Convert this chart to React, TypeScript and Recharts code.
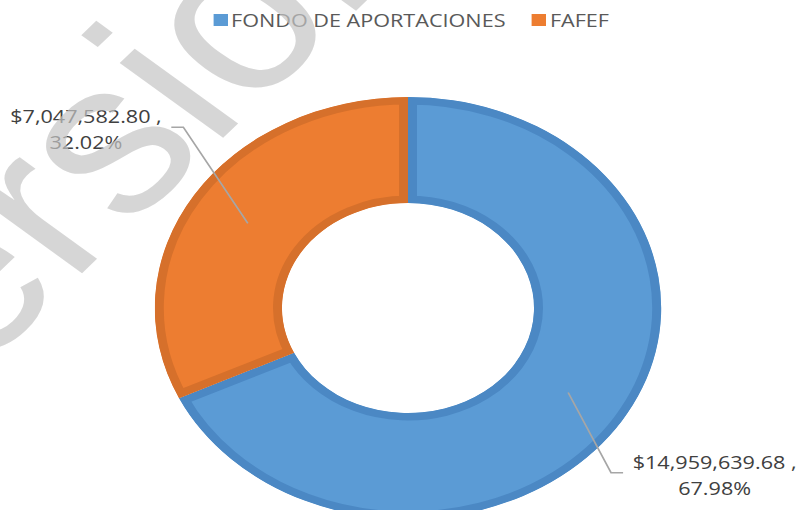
import React from "react";
import { PieChart, Pie, Cell, Legend, Sector } from "recharts";

// fondos federales: importe y participación
const categories = ["FONDO DE APORTACIONES", "FAFEF"];
const amounts = [14959639.68, 7047582.8];
const sliceColors = ["#5B9BD5", "#ED7D31"];
const edgeColors = ["#4B88C4", "#D6702B"];

const data = categories.map((name, i) => ({ name, value: amounts[i] }));

// the reference image is stretched horizontally
const STRETCH = 1.2;
const W = Math.round(800 / STRETCH);
const H = 510;
const CX = 340;
const CY = 308;
const R_OUT = 211;
const R_IN = 105;

const FONT = "'Open Sans', sans-serif";
const LABEL_SIZE = 18;

let ctx: CanvasRenderingContext2D | null = null;
const textWidth = (s: string) => {
  if (!ctx) ctx = document.createElement("canvas").getContext("2d");
  if (!ctx) return s.length * 9;
  ctx.font = `${LABEL_SIZE}px 'Open Sans'`;
  return ctx.measureText(s).width;
};

const money = (v: number) =>
  "$" + v.toLocaleString("en-US", { minimumFractionDigits: 2, maximumFractionDigits: 2 }) + " ,";

const InsetSector = (props: any) => {
  const { cx, cy, innerRadius, outerRadius, startAngle, endAngle, fill, stroke } = props;
  const id = `clip-${Math.round(startAngle * 100)}`;
  const geom = { cx, cy, innerRadius, outerRadius, startAngle, endAngle };
  return (
    <g>
      <defs>
        <clipPath id={id}>
          <Sector {...geom} />
        </clipPath>
      </defs>
      <g clipPath={`url(#${id})`}>
        <Sector {...geom} fill={fill} stroke={stroke} strokeWidth={15} />
      </g>
    </g>
  );
};

const renderLabel = (props: any) => {
  const { cx, cy, midAngle, innerRadius, outerRadius, value, percent } = props;
  const rad = (Math.PI / 180) * midAngle;
  const cos = Math.cos(rad);
  const sin = Math.sin(rad);
  const rm = (innerRadius + outerRadius) / 2;
  const sx = cx + rm * cos;
  const sy = cy - rm * sin;
  const ex = cx + outerRadius * cos - 9;
  const ey = cy - outerRadius * sin * 1.53 - 8;
  const dir = cos < 0 ? -1 : 1;
  const hx = ex + dir * 10;
  const tx = hx + dir * 8;
  const line1 = money(value);
  const line2 = (percent * 100).toFixed(2) + "%";
  const w = textWidth(line1);
  const mid = tx + (dir * w) / 2;
  return (
    <g>
      <polyline
        points={`${sx},${sy} ${ex},${ey} ${hx},${ey}`}
        fill="none"
        stroke="#A6A6A6"
        strokeWidth={1.5}
      />
      <text
        x={tx}
        y={ey - 4}
        textAnchor={dir < 0 ? "end" : "start"}
        fontFamily={FONT}
        fontSize={LABEL_SIZE}
        fill="#404040"
      >
        {line1}
      </text>
      <text x={mid} y={ey + 22} textAnchor="middle" fontFamily={FONT} fontSize={LABEL_SIZE} fill="#404040">
        {line2}
      </text>
    </g>
  );
};

const renderLegend = () => (
  <div
    style={{
      display: "flex",
      justifyContent: "center",
      alignItems: "center",
      paddingLeft: 18,
      height: 24,
      fontFamily: FONT,
      fontSize: 18,
      color: "#595959",
    }}
  >
    {categories.map((name, i) => (
      <div key={name} style={{ display: "flex", alignItems: "center", marginRight: i === 0 ? 22 : 0 }}>
        <span style={{ width: 12, height: 12, background: sliceColors[i], marginRight: 3 }} />
        <span>{name}</span>
      </div>
    ))}
  </div>
);

export default function App() {
  return (
    <div
      style={{
        position: "absolute",
        left: 0,
        top: 0,
        width: 800,
        height: H,
        overflow: "hidden",
        background: "#fff",
      }}
    >
      <div style={{ width: W, height: H, transform: `scaleX(${STRETCH})`, transformOrigin: "0 0" }}>
        <PieChart width={W} height={H} margin={{ top: 0, right: 0, bottom: 0, left: 0 }}>
          <Legend
            verticalAlign="middle"
            align="center"
            content={renderLegend}
            wrapperStyle={{ top: 8, left: 0, width: W }}
          />
          <Pie
            data={data}
            dataKey="value"
            nameKey="name"
            cx={CX}
            cy={CY}
            innerRadius={R_IN}
            outerRadius={R_OUT}
            startAngle={90}
            endAngle={-270}
            stroke="none"
            shape={InsetSector}
            label={renderLabel}
            labelLine={false}
            isAnimationActive={false}
          >
            {data.map((d, i) => (
              <Cell key={d.name} fill={sliceColors[i]} stroke={edgeColors[i]} />
            ))}
          </Pie>
        </PieChart>
      </div>
      {/* watermark, stretched like the rest of the image */}
      <svg
        width={800}
        height={H}
        style={{ position: "absolute", left: 0, top: 0, pointerEvents: "none" }}
      >
        <text
          transform={`scale(${STRETCH},1) translate(-107,475) rotate(-49)`}
          fontFamily="'Liberation Sans', Arial, sans-serif"
          fontSize={216}
          fill="#C4C4C4"
          fillOpacity={0.7}
        >
          Versión
        </text>
      </svg>
    </div>
  );
}
